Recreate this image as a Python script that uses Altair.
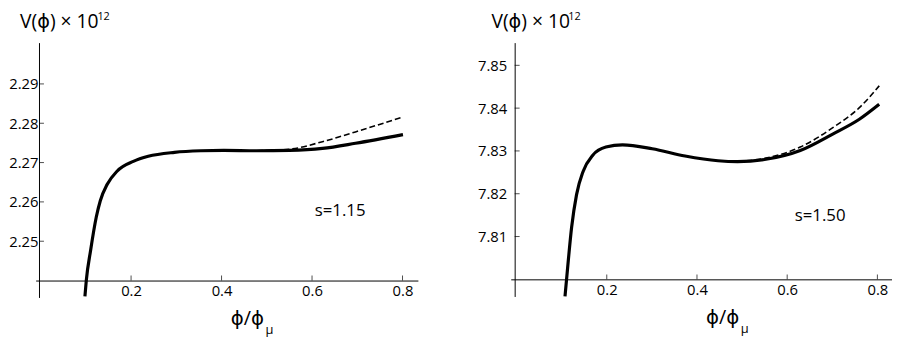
import altair as alt
import pandas as pd

FONT = "Open Sans, DejaVu Sans, sans-serif"

# ---------------- data ----------------
X_TICKS = [0.2, 0.4, 0.6, 0.8]

# left panel: s = 1.15
L_X_SOLID = [0.098, 0.101, 0.1106, 0.123, 0.132, 0.147, 0.169, 0.205, 0.238,
             0.296, 0.354, 0.405, 0.478, 0.550, 0.623, 0.696, 0.801]
L_Y_SOLID = [2.2360, 2.2400, 2.2477, 2.2561, 2.2603, 2.2644, 2.2678, 2.2703, 2.2716,
             2.2726, 2.2730, 2.2731, 2.2730, 2.2731, 2.2736, 2.2749, 2.2771]
L_X_DASH = [0.478, 0.550, 0.623, 0.696, 0.801]
L_Y_DASH = [2.2730, 2.2734, 2.2753, 2.2778, 2.2816]
L_Y_TICKS = [2.25, 2.26, 2.27, 2.28, 2.29]
L_LABEL = "s=1.15"

# right panel: s = 1.50
R_X_SOLID = [0.1074, 0.1147, 0.122, 0.133, 0.1475, 0.169, 0.198, 0.235, 0.3007,
             0.3736, 0.4466, 0.490, 0.556, 0.629, 0.702, 0.760, 0.804]
R_Y_SOLID = [7.7960, 7.8044, 7.8121, 7.8198, 7.8252, 7.8290, 7.8309, 7.8314, 7.8305,
             7.8288, 7.8277, 7.8275, 7.8281, 7.8301, 7.8340, 7.8374, 7.8409]
R_X_DASH = [0.490, 0.556, 0.629, 0.702, 0.760, 0.804]
R_Y_DASH = [7.8275, 7.8284, 7.8309, 7.8355, 7.8401, 7.8452]
R_Y_TICKS = [7.81, 7.82, 7.83, 7.84, 7.85]
R_LABEL = "s=1.50"

Y_TITLE = "V(ϕ) × 10"
Y_SUP = "12"
X_TITLE = "ϕ/ϕ"
X_SUB = "μ"


def panel(xs, ys, xd, yd, yticks, xdom, ydom, y_axis_x, x_axis_y, W, H,
          label_pad, ytitle_x, sup_x, s_text, s_x, s_y):
    xscale = alt.Scale(domain=xdom, nice=False, zero=False)
    yscale = alt.Scale(domain=ydom, nice=False, zero=False)
    x_off = -(x_axis_y - ydom[0]) / (ydom[1] - ydom[0]) * H
    y_off = -(y_axis_x - xdom[0]) / (xdom[1] - xdom[0]) * W
    xtitle_px = (0.456 - xdom[0]) / (xdom[1] - xdom[0]) * W

    xaxis = alt.Axis(values=X_TICKS, format=".1f", offset=x_off, domain=True,
                     domainColor="black", domainWidth=1, ticks=False, tickSize=0,
                     grid=False, labelFont=FONT, labelFontSize=15, labelColor="black",
                     labelPadding=3, labelFlush=False, title=X_TITLE, titleFont=FONT,
                     titleFontSize=20, titleFontWeight="normal", titleColor="black",
                     titleAngle=0, titleX=xtitle_px, titleY=45, titleAlign="center",
                     titleBaseline="alphabetic")
    yaxis = alt.Axis(values=yticks, format=".2f", offset=y_off, domain=True,
                     domainColor="black", domainWidth=1, ticks=False, tickSize=0,
                     grid=False, labelFont=FONT, labelFontSize=15, labelColor="black",
                     labelPadding=label_pad, labelFlush=False, title=Y_TITLE,
                     titleFont=FONT, titleFontSize=19.5, titleFontWeight="normal",
                     titleColor="black", titleAngle=0, titleX=ytitle_x, titleY=-15,
                     titleAlign="left", titleBaseline="alphabetic", minExtent=0)

    def X(field):
        return alt.X(field, scale=xscale, axis=xaxis)

    def Y(field):
        return alt.Y(field, scale=yscale, axis=yaxis)

    solid = alt.Chart(pd.DataFrame({"x": xs, "y": ys})).mark_line(
        color="black", strokeWidth=3.2, interpolate="monotone"
    ).encode(x=X("x:Q"), y=Y("y:Q"))

    dashed = alt.Chart(pd.DataFrame({"x": xd, "y": yd})).mark_line(
        color="black", strokeWidth=1.6, strokeDash=[6, 3], interpolate="monotone"
    ).encode(x=X("x:Q"), y=Y("y:Q"))

    xt = alt.Chart(pd.DataFrame({"x": X_TICKS, "y": [x_axis_y] * len(X_TICKS)})).mark_tick(
        orient="vertical", size=5, thickness=1, color="black", yOffset=-2.5
    ).encode(x=X("x:Q"), y=Y("y:Q"))

    yt = alt.Chart(pd.DataFrame({"y": yticks, "x": [y_axis_x] * len(yticks)})).mark_tick(
        orient="horizontal", size=5, thickness=1, color="black", xOffset=2.5
    ).encode(x=X("x:Q"), y=Y("y:Q"))

    txt = alt.Chart(pd.DataFrame({"x": [s_x], "y": [s_y], "t": [s_text]})).mark_text(
        font=FONT, fontSize=17, align="center", baseline="middle", color="black"
    ).encode(x=X("x:Q"), y=Y("y:Q"), text="t:N")

    mu = alt.Chart(pd.DataFrame({"x": [0.506], "y": [x_axis_y], "t": [X_SUB]})).mark_text(
        font=FONT, fontSize=13, align="center", baseline="alphabetic", color="black", dy=54
    ).encode(x=X("x:Q"), y=Y("y:Q"), text="t:N")

    sup = alt.Chart(pd.DataFrame({"t": [Y_SUP]})).mark_text(
        font=FONT, fontSize=11, align="left", baseline="alphabetic", color="black"
    ).encode(x=alt.value(sup_x), y=alt.value(-23), text="t:N")

    return alt.layer(solid, dashed, xt, yt, txt, mu, sup).properties(width=W, height=H)


left = panel(L_X_SOLID, L_Y_SOLID, L_X_DASH, L_Y_DASH, L_Y_TICKS,
             [-0.0109, 0.834], [2.2357, 2.3005], -0.0035, 2.24, 387, 258,
             1, -19.7, 62.5, L_LABEL, 0.662, 2.2576)
right = panel(R_X_SOLID, R_Y_SOLID, R_X_DASH, R_Y_DASH, R_Y_TICKS,
              [-0.0129, 0.8324], [7.7960, 7.8553], -0.0042, 7.80, 386, 257,
              8, -24, 58.3, R_LABEL, 0.673, 7.8148)

chart = alt.hconcat(left, right, spacing=60).properties(
    padding={"left": 0, "top": 1, "right": 0, "bottom": 0},
    background="white",
).configure_view(stroke=None)

chart.save("out.html", embed_options={"renderer": "svg", "actions": False})
